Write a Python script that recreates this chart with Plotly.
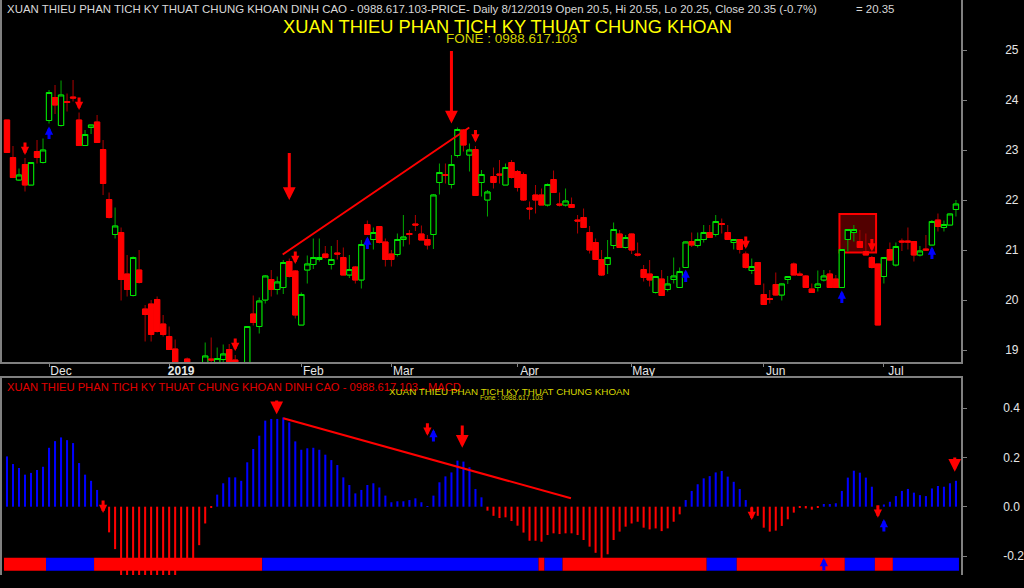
import plotly.graph_objects as go

# ---------------- data ----------------
opens = [23.6, 22.85, 22.4, 22.71, 22.3, 22.97, 22.75, 23.59, 24.05, 23.49,
         23.97, 24.06, 23.6, 23.09, 23.45, 23.56, 23.01, 22.01, 21.31, 21.35,
         20.52, 20.09, 20.6, 19.82, 19.92, 20.01, 19.52, 19.27, 19.02, 18.6,
         18.82, 18.5, 18.45, 18.65, 18.82, 18.7, 18.81, 19.01, 18.8, 18.6,
         18.7, 19.72, 19.47, 20.0, 20.41, 20.21, 20.25, 20.77, 20.58, 19.5,
         20.6, 20.71, 20.81, 20.92, 20.71, 20.94, 20.85, 20.5, 20.66, 20.4,
         21.51, 21.21, 21.47, 21.16, 20.92, 20.91, 21.21, 21.33, 21.52, 21.32,
         21.21, 21.31, 22.35, 22.51, 22.31, 22.89, 23.4, 22.9, 23.01, 22.35,
         22.0, 22.47, 22.52, 22.3, 22.75, 22.57, 22.51, 21.84, 22.1, 22.1,
         21.9, 22.41, 21.92, 21.9, 21.91, 21.6, 21.65, 21.35, 21.15, 20.81,
         20.71, 21.09, 21.32, 21.05, 21.32, 20.92, 20.61, 20.52, 20.15, 20.42,
         20.21, 20.41, 20.25, 20.65, 21.17, 21.09, 21.21, 21.35, 21.31, 21.53,
         21.35, 21.15, 21.21, 20.92, 20.59, 20.75, 20.11, 20.03, 20.31, 20.1,
         20.41, 20.72, 20.52, 20.48, 20.22, 20.25, 20.4, 20.52, 20.42, 20.25,
         21.21, 21.35, 21.17, 20.97, 20.85, 20.72, 20.47, 21.01, 20.7, 21.18,
         21.18, 21.17, 20.9, 21.02, 21.1, 21.6, 21.45, 21.5, 21.81]
highs = [23.6, 23.08, 22.63, 22.84, 22.75, 23.2, 23.23, 24.2, 24.3, 24.39,
         24.13, 24.4, 23.75, 23.4, 23.5, 23.7, 23.2, 22.15, 21.85, 21.45,
         20.9, 20.87, 21.0, 19.9, 20.0, 20.07, 19.7, 19.47, 19.21, 18.7,
         18.85, 18.65, 18.7, 19.15, 19.25, 19.05, 19.11, 19.12, 18.9, 18.72,
         19.47, 20.09, 20.05, 20.5, 20.6, 20.47, 20.8, 20.83, 20.6, 20.15,
         20.89, 21.23, 21.23, 21.08, 21.08, 21.2, 21.05, 20.9, 20.68, 21.2,
         21.59, 21.45, 21.48, 21.23, 21.0, 21.33, 21.7, 21.4, 21.7, 21.49,
         21.3, 22.12, 22.73, 22.73, 22.9, 23.45, 23.42, 23.13, 23.08, 22.6,
         22.2, 22.65, 22.8, 22.73, 22.8, 22.6, 22.55, 21.97, 22.3, 22.23,
         22.33, 22.59, 22.15, 22.23, 22.05, 21.7, 21.83, 21.48, 21.23, 21.0,
         21.2, 21.55, 21.4, 21.3, 21.33, 21.15, 20.7, 20.8, 20.48, 20.6,
         20.48, 20.85, 20.65, 21.17, 21.35, 21.35, 21.5, 21.5, 21.7, 21.63,
         21.5, 21.22, 21.22, 20.97, 20.83, 20.76, 20.33, 20.2, 20.55, 20.33,
         20.48, 20.75, 20.57, 20.5, 20.33, 20.59, 20.6, 20.6, 20.5, 21.02,
         21.42, 21.5, 21.4, 21.33, 20.88, 20.72, 20.86, 21.15, 21.15, 21.23,
         21.45, 21.18, 21.08, 21.3, 21.6, 21.73, 21.59, 21.73, 22.0]
lows = [22.95, 22.45, 22.38, 22.17, 22.3, 22.73, 22.73, 23.53, 23.72, 23.47,
        23.77, 23.97, 23.09, 23.08, 23.32, 23.15, 22.1, 21.63, 21.23, 19.99,
        20.07, 20.07, 20.33, 19.17, 19.17, 19.35, 19.27, 19.0, 18.5, 18.4,
        18.5, 18.35, 18.4, 18.6, 18.6, 18.65, 18.7, 18.6, 18.5, 18.45,
        18.6, 19.49, 19.33, 19.93, 20.07, 20.11, 20.12, 20.45, 19.63, 19.5,
        20.33, 20.62, 20.77, 20.83, 20.61, 20.81, 20.5, 20.44, 20.33, 20.23,
        21.3, 21.01, 21.13, 20.67, 20.67, 20.87, 21.07, 21.11, 21.38, 21.2,
        21.01, 21.02, 22.11, 22.33, 22.23, 22.85, 22.97, 22.57, 22.09, 22.07,
        21.67, 22.23, 22.33, 22.3, 22.43, 22.17, 21.98, 21.61, 21.73, 21.9,
        21.87, 22.15, 21.87, 21.87, 21.85, 21.33, 21.45, 20.93, 20.8, 20.48,
        20.52, 21.02, 21.05, 21.03, 20.92, 20.87, 20.37, 20.27, 20.13, 20.08,
        20.17, 20.33, 20.25, 20.64, 21.06, 21.05, 21.15, 21.25, 21.27, 21.33,
        21.21, 21.01, 20.93, 20.63, 20.52, 20.3, 19.91, 19.93, 20.09, 19.99,
        20.32, 20.5, 20.48, 20.25, 20.14, 20.17, 20.37, 20.25, 20.25, 20.24,
        20.97, 21.17, 21.05, 20.9, 20.63, 19.5, 20.33, 20.78, 20.67, 20.98,
        21.01, 20.77, 20.87, 21.0, 21.1, 21.37, 21.37, 21.5, 21.67]
closes = [22.95, 22.45, 22.5, 22.3, 22.75, 22.85, 23.0, 24.15, 23.9, 24.1,
          23.95, 24.04, 23.09, 23.31, 23.5, 23.15, 22.33, 21.65, 21.48, 20.41,
          20.21, 20.85, 20.35, 19.71, 19.31, 19.37, 19.31, 19.01, 18.6, 18.5,
          18.6, 18.45, 18.65, 18.88, 18.8, 18.83, 18.92, 18.7, 18.6, 18.55,
          19.47, 19.55, 19.98, 20.48, 20.21, 20.36, 20.75, 20.47, 19.7, 20.11,
          20.72, 20.85, 20.85, 20.85, 20.81, 20.92, 20.5, 20.61, 20.4, 21.11,
          21.31, 21.35, 21.15, 20.81, 20.81, 21.21, 21.26, 21.31, 21.5, 21.2,
          21.1, 22.1, 22.55, 22.49, 22.71, 23.41, 23.1, 23.0, 22.09, 22.51,
          22.16, 22.35, 22.5, 22.65, 22.45, 22.25, 22.0, 21.82, 22.0, 21.9,
          22.31, 22.15, 21.9, 21.98, 21.85, 21.58, 21.45, 21.0, 20.81, 20.5,
          20.85, 21.41, 21.05, 21.25, 21.0, 20.9, 20.45, 20.4, 20.47, 20.09,
          20.32, 20.48, 20.57, 21.16, 21.1, 21.21, 21.35, 21.25, 21.57, 21.51,
          21.21, 21.21, 21.01, 20.65, 20.67, 20.31, 19.91, 20.01, 20.1, 20.32,
          20.47, 20.5, 20.5, 20.25, 20.15, 20.32, 20.48, 20.25, 20.25, 21.01,
          21.41, 21.41, 21.05, 20.9, 20.65, 19.5, 20.85, 20.8, 21.07, 21.16,
          21.16, 20.9, 20.98, 21.0, 21.57, 21.47, 21.51, 21.72, 21.92]
macd_hist = [0.204, 0.173, 0.157, 0.130, 0.137, 0.149, 0.162, 0.239, 0.266, 0.281,
             0.270, 0.258, 0.177, 0.130, 0.105, 0.068, -0.010, -0.104, -0.172, -0.285,
             -0.29, -0.30, -0.30, -0.30, -0.30, -0.30, -0.29, -0.29, -0.285, -0.235,
             -0.225, -0.215, -0.156, -0.068, -0.003, 0.049, 0.095, 0.119, 0.119, 0.105,
             0.180, 0.234, 0.288, 0.349, 0.356, 0.356, 0.362, 0.342, 0.265, 0.231,
             0.237, 0.239, 0.231, 0.211, 0.189, 0.169, 0.119, 0.088, 0.054, 0.068,
             0.088, 0.095, 0.078, 0.045, 0.018, 0.022, 0.022, 0.027, 0.034, 0.018,
             0.002, 0.045, 0.099, 0.123, 0.139, 0.187, 0.183, 0.160, 0.072, 0.038,
             -0.016, -0.037, -0.046, -0.043, -0.058, -0.077, -0.105, -0.138, -0.138, -0.142,
             -0.115, -0.108, -0.111, -0.108, -0.108, -0.115, -0.135, -0.162, -0.187, -0.21,
             -0.193, -0.135, -0.101, -0.081, -0.068, -0.061, -0.085, -0.092, -0.088, -0.099,
             -0.088, -0.061, -0.031, 0.027, 0.064, 0.091, 0.115, 0.124, 0.139, 0.145,
             0.122, 0.101, 0.072, 0.027, -0.015, -0.037, -0.085, -0.101, -0.097, -0.078,
             -0.051, -0.024, -0.004, -0.007, -0.012, -0.004, 0.011, 0.011, 0.014, 0.064,
             0.118, 0.146, 0.138, 0.118, 0.081, -0.005, 0.009, 0.020, 0.043, 0.064,
             0.072, 0.057, 0.047, 0.043, 0.074, 0.084, 0.081, 0.095, 0.105]

month_idx = [7, 27, 49, 64, 85, 104, 126, 146]
month_labels = ["Dec", "<b>2019</b>", "Feb", "Mar", "Apr", "May", "Jun", "Jul"]
price_ticks = [19, 20, 21, 22, 23, 24, 25]
macd_ticks = [-0.2, 0.0, 0.2, 0.4]
macd_tick_labels = ["-0.2", "0.0", "0.2", "0.4"]

# trend strip: runs of (state, number of bars)
trend_runs = [("down", 7), ("up", 8), ("down", 28), ("up", 46), ("down", 1), ("up", 3),
              ("down", 24), ("up", 5), ("down", 18), ("up", 5), ("down", 3), ("up", 11)]

# signal arrows on price panel (bar index, price at arrow tip)
price_sell_idx = [3, 12, 38, 48, 78, 123, 144]
price_sell_tip = [22.9, 23.8, 18.98, 20.72, 23.15, 21.02, 20.97]
price_buy_idx = [7, 60, 113, 139, 154]
price_buy_tip = [23.47, 21.27, 20.61, 20.19, 21.07]
price_major_idx = [47, 74]
price_major_tip = [22.0, 23.53]
price_major_tail = [22.97, 25.01]

# signal arrows on MACD panel
macd_sell_idx = [16, 70, 124, 145]
macd_sell_tip = [-0.026, 0.288, -0.054, -0.045]
macd_buy_idx = [71, 136, 146]
macd_buy_tip = [0.315, -0.208, -0.05]
macd_major_idx = [75.8, 44.9, 157.8]
macd_major_tip = [0.239, 0.375, 0.142]
macd_major_tail = [0.335, 0.437, 0.206]

# trend lines
trend_price_x = [45.9, 76.97]
trend_price_y = [20.91, 23.45]
trend_macd_x = [46.0, 93.9]
trend_macd_y = [0.3586, 0.034]

# highlighted box
box_x = [138.6, 144.7]
box_y = [20.95, 21.72]

header_text = ("XUAN THIEU PHAN TICH KY THUAT CHUNG KHOAN DINH CAO - 0988.617.103-PRICE- "
               "Daily 8/12/2019 Open 20.5, Hi 20.55, Lo 20.25, Close 20.35 (-0.7%)")
header_value = "= 20.35"
brand_text = "XUAN THIEU PHAN TICH KY THUAT CHUNG KHOAN"
phone_text = "FONE : 0988.617.103"
macd_title = "XUAN THIEU PHAN TICH KY THUAT CHUNG KHOAN DINH CAO - 0988.617.103 - MACD"
phone_small = "Fone : 0988.617.103"

# ---------------- figure ----------------
idx = list(range(len(opens)))
W, H = 1024, 588
PLOT_W = 966
FONT = "Liberation Sans, Arial, sans-serif"
GRID = "#808080"

def px(x):
    return x / PLOT_W

def py(y):
    return 1 - y / H

fig = go.Figure()

# candle wicks (darker)
fig.add_trace(go.Candlestick(
    x=idx, open=opens, high=highs, low=lows, close=closes,
    increasing=dict(line=dict(color="#00a800", width=1), fillcolor="black"),
    decreasing=dict(line=dict(color="#b00000", width=1), fillcolor="#ff0000"),
    xaxis="x", yaxis="y", hoverinfo="skip", showlegend=False))
# candle bodies (bright outline)
body_hi = [max(o, c) for o, c in zip(opens, closes)]
body_lo = [min(o, c) for o, c in zip(opens, closes)]
fig.add_trace(go.Candlestick(
    x=idx, open=opens, high=body_hi, low=body_lo, close=closes,
    increasing=dict(line=dict(color="#00e600", width=1), fillcolor="black"),
    decreasing=dict(line=dict(color="#ff0000", width=1), fillcolor="#ff0000"),
    xaxis="x", yaxis="y", hoverinfo="skip", showlegend=False))

fig.add_trace(go.Scatter(x=trend_price_x, y=trend_price_y, mode="lines",
                         line=dict(color="#ff0000", width=2), xaxis="x", yaxis="y",
                         hoverinfo="skip", showlegend=False))

# MACD histogram
fig.add_trace(go.Bar(
    x=idx, y=macd_hist, width=0.34,
    marker=dict(color=["#0000ff" if v >= 0 else "#ff0000" for v in macd_hist], line=dict(width=0)),
    xaxis="x2", yaxis="y2", hoverinfo="skip", showlegend=False))
fig.add_trace(go.Scatter(x=trend_macd_x, y=trend_macd_y, mode="lines",
                         line=dict(color="#ff0000", width=2), xaxis="x2", yaxis="y2",
                         hoverinfo="skip", showlegend=False))

shapes = []
# trend strip
start = 0
for state, n in trend_runs:
    shapes.append(dict(type="rect", xref="x2", yref="y2",
                       x0=start - 0.5, x1=start + n - 0.5, y0=-0.2596, y1=-0.2069,
                       fillcolor="#ff0000" if state == "down" else "#0000ff",
                       line=dict(width=0), layer="above"))
    start += n
# highlight box
shapes.append(dict(type="rect", xref="x", yref="y", x0=box_x[0], x1=box_x[1],
                   y0=box_y[0], y1=box_y[1], fillcolor="rgba(255,0,0,0.32)",
                   line=dict(color="#ff0000", width=2), layer="below"))

annotations = []

def arrow(x, tip, color, xr, yr, length=14, tail=None, size=0.55, up=False):
    a = dict(x=x, y=tip, xref=xr, yref=yr, text="", showarrow=True,
             arrowhead=2, arrowsize=size, arrowwidth=3, arrowcolor=color, standoff=0)
    if tail is None:
        a.update(ax=0, ay=(length if up else -length))
    else:
        a.update(axref=xr, ayref=yr, ax=x, ay=tail)
    annotations.append(a)

for i, t in zip(price_sell_idx, price_sell_tip):
    arrow(i, t, "#ff0000", "x", "y")
for i, t in zip(price_buy_idx, price_buy_tip):
    arrow(i, t, "#0000ff", "x", "y", up=True)
for i, t, tl in zip(price_major_idx, price_major_tip, price_major_tail):
    arrow(i, t, "#ff0000", "x", "y", tail=tl, size=0.85)
for i, t in zip(macd_sell_idx, macd_sell_tip):
    arrow(i, t, "#ff0000", "x2", "y2")
for i, t in zip(macd_buy_idx, macd_buy_tip):
    arrow(i, t, "#0000ff", "x2", "y2", up=True)
for i, t, tl in zip(macd_major_idx, macd_major_tip, macd_major_tail):
    arrow(i, t, "#ff0000", "x2", "y2", tail=tl, size=0.85)

def label(text, x, y, size, color):
    annotations.append(dict(text=text, x=px(x), y=py(y), xref="paper", yref="paper",
                            xanchor="left", yanchor="middle", showarrow=False,
                            font=dict(family=FONT, size=size, color=color)))

label(header_text, 3, 8.5, 11.45, "#d8d8d8")
label(header_value, 858, 8.5, 11.45, "#d8d8d8")
label(brand_text, 281, 27, 18.3, "#ffff00")
label(phone_text, 445, 38.5, 13.5, "#d2d200")
label(macd_title, 3, 386.5, 11.2, "#e00000")
label(brand_text, 388, 391.5, 9.8, "#d8d800")
label(phone_small, 479, 397.5, 6.8, "#d8d800")

axis_common = dict(showgrid=False, zeroline=False, showline=True, linecolor=GRID,
                   linewidth=1.5, tickcolor=GRID)

fig.update_layout(
    width=W, height=H,
    paper_bgcolor="black", plot_bgcolor="black",
    margin=dict(l=0, r=W - PLOT_W, t=0, b=0),
    showlegend=False, barmode="overlay", boxgap=0.12, boxgroupgap=0,
    xaxis=dict(domain=[0, 1], anchor="y", range=[-0.83, 158.84], rangeslider=dict(visible=False),
               ticks="outside", ticklen=3, tickvals=month_idx, ticktext=month_labels,
               tickfont=dict(family=FONT, size=12, color="#e6e6e6"), ticklabelshift=12,
               ticklabelstandoff=-6, **axis_common),
    yaxis=dict(domain=[1 - 362 / H, 1], anchor="x", range=[18.76, 26.0], side="right",
               mirror=True, ticks="outside", ticklen=4, tickvals=price_ticks,
               tickfont=dict(family=FONT, size=12, color="#e6e6e6"), ticklabelstandoff=36,
               **axis_common),
    xaxis2=dict(domain=[0, 1], anchor="y2", range=[-0.83, 158.84], side="top",
                showticklabels=False, ticks="", **axis_common),
    yaxis2=dict(domain=[1 - 575 / H, 1 - 378 / H], anchor="x2", range=[-0.277, 0.522],
                side="right", mirror=True, ticks="outside", ticklen=4,
                tickvals=macd_ticks, ticktext=macd_tick_labels,
                tickfont=dict(family=FONT, size=12, color="#e6e6e6"), ticklabelstandoff=34,
                **axis_common),
    shapes=shapes, annotations=annotations,
)

fig.write_html("out.html", config={"displayModeBar": False},
               post_script="document.body.style.margin='0';document.body.style.background='black';")
